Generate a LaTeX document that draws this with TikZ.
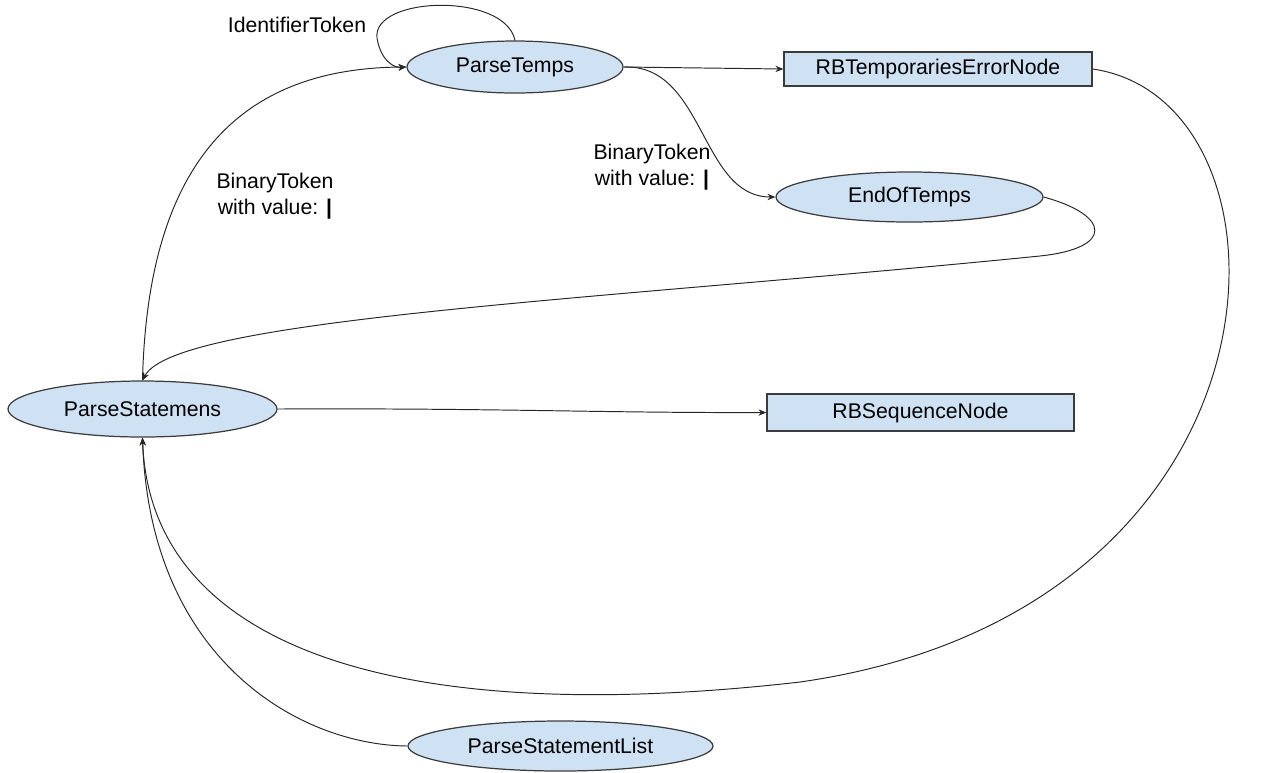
\documentclass[tikz,border=0pt]{standalone}
\usepackage{fontspec}
\setmainfont{Liberation Sans}
\usetikzlibrary{arrows.meta,shapes.geometric}
\definecolor{nodefill}{HTML}{CFE2F3}
\definecolor{nodeline}{HTML}{3C3C3C}
\begin{document}
\begin{tikzpicture}[x=0.02cm,y=-0.02cm,
  font=\fontsize{12.1}{14.5}\selectfont,
  state/.style={ellipse,draw=nodeline,fill=nodefill,line width=0.7pt,inner sep=0pt},
  result/.style={rectangle,draw=nodeline,fill=nodefill,line width=0.7pt,inner sep=0pt},
  edge/.style={draw=black!85,line width=0.55pt,-{Stealth[length=4.5pt,width=3.6pt]}},
  lbl/.style={align=center,inner sep=0pt}]
\useasboundingbox (0,0) rectangle (1264,772);

% states
\node[state,minimum width=216*0.02cm,minimum height=52*0.02cm] (temps) at (515,67) {ParseTemps};
\node[state,minimum width=267*0.02cm,minimum height=50*0.02cm] (endtemps) at (909.5,197) {EndOfTemps};
\node[state,minimum width=269*0.02cm,minimum height=56*0.02cm] (stmts) at (142.5,409) {ParseStatemens};
\node[state,minimum width=305*0.02cm,minimum height=50*0.02cm] (stmtlist) at (560.5,746) {ParseStatementList};

% results
\node[result,minimum width=308*0.02cm,minimum height=34*0.02cm] (temperr) at (938,69) {RBTemporariesErrorNode};
\node[result,minimum width=307*0.02cm,minimum height=37*0.02cm] (seq) at (920.5,412.5) {RBSequenceNode};

% self loop on ParseTemps
\draw[edge] (temps.north) .. controls (505,-8) and (372,-4) .. (377,38)
  .. controls (381,62) and (395,68) .. (temps.west);
\node[lbl] (lidtok) at (297,25) {IdentifierToken};

% ParseTemps to the error node and to EndOfTemps
\draw[edge] (temps.east) -- (temperr.west);
\draw[edge] (temps.east) .. controls (705,64) and (700,197) .. (endtemps.west);
\node[lbl] (lbin1) at (652,167) {BinaryToken\\with value: \textbf{|}};

% ParseStatemens back to ParseTemps
\draw[edge] (stmts.north) .. controls (148,150) and (250,68) .. (temps.west);
\node[lbl] (lbin2) at (275,196) {BinaryToken\\with value: \textbf{|}};

% EndOfTemps to ParseStatemens
\draw[edge] (endtemps.east) .. controls (1110,215) and (1115,248) .. (1040,256)
  .. controls (600,300) and (175,318) .. (stmts.north);

% ParseStatemens to RBSequenceNode
\draw[edge] (stmts.east) .. controls (500,408) and (600,413) .. (seq.west);

% RBTemporariesErrorNode around to ParseStatemens
\draw[edge] (temperr.east) .. controls (1310,100) and (1305,610) .. (800,682)
  .. controls (380,730) and (150,640) .. (stmts.south);

% ParseStatementList to ParseStatemens
\draw[edge] (stmtlist.west) .. controls (300,745) and (150,660) .. (stmts.south);
\end{tikzpicture}
\end{document}
